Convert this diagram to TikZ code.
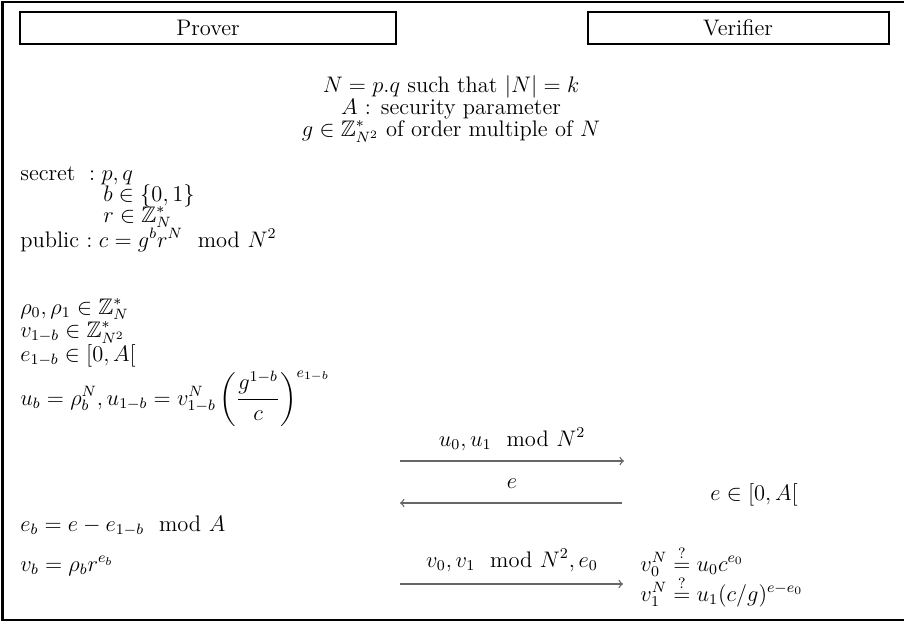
\documentclass[tikz,border=0pt]{standalone}
\usepackage{amsmath,amssymb}
\begin{document}
\begin{tikzpicture}[x=0.5333pt,y=-0.5333pt,
  every node/.append style={font=\fontsize{12}{14.4}\selectfont},
  frameline/.style={line width=1.07pt},
  rolebox/.style={draw,line width=1.07pt,minimum height=32*0.5333pt,inner sep=0pt},
  txt/.style={anchor=base west,inner sep=0pt},
  ctxt/.style={anchor=base,inner sep=0pt},
  msg/.style={draw=black!60,line width=0.7pt,-to}]
\useasboundingbox (0,0) rectangle (904,621);
\fill[white] (0,0) rectangle (904,621);
% frame (left, top, bottom)
\coordinate (tl) at (2.5,2); \coordinate (tr) at (904,2);
\coordinate (bl) at (2.5,619.5); \coordinate (br) at (904,619.5);
\draw[frameline] (tr) -- (tl) -- (bl) -- (br);
% roles
\node[rolebox,minimum width=376*0.5333pt] (prover) at (208,28) {Prover};
\node[rolebox,minimum width=301*0.5333pt] (verifier) at (738,28) {Verifier};
% common parameters
\node[ctxt] (p1) at (451,92) {$N = p.q$ such that $|N| = k$};
\node[ctxt] (p2) at (451,114) {$A$ : security parameter};
\node[ctxt] (p3) at (451,136) {$g\in\mathbb{Z}^*_{N^2}$ of order multiple of $N$};
% prover secrets
\node[txt] (s1) at (20,180) {secret $\;: p, q$};
\node[txt] (s2) at (103,201) {$b\in\{0,1\}$};
\node[txt] (s3) at (103,222) {$r\in\mathbb{Z}^*_N$};
\node[txt] (s4) at (20,247) {public $: c = g^b r^N \mod N^2$};
\node[txt] (l1) at (20,314) {$\rho_0,\rho_1\in\mathbb{Z}^*_N$};
\node[txt] (l2) at (20,337) {$v_{1-b}\in\mathbb{Z}^*_{N^2}$};
\node[txt] (l3) at (20,361) {$e_{1-b}\in[0,A[$};
\node[txt] (l4) at (20,405) {$u_b = \rho_b^N, u_{1-b} = v_{1-b}^N\left(\dfrac{g^{1-b}}{c}\right)^{e_{1-b}}$};
\node[txt] (l5) at (20,531) {$e_b = e - e_{1-b} \mod A$};
\node[txt] (l6) at (20,571) {$v_b = \rho_b r^{e_b}$};
% verifier side
\node[txt] (w1) at (710,500) {$e\in[0,A[$};
\node[txt] (w2) at (640,571) {$v_0^N \stackrel{?}{=} u_0 c^{e_0}$};
\node[txt] (w3) at (640,601) {$v_1^N \stackrel{?}{=} u_1 (c/g)^{e-e_0}$};
% messages
\coordinate (a1s) at (400,461); \coordinate (a1e) at (624,461);
\coordinate (a2s) at (622,503); \coordinate (a2e) at (400,503);
\coordinate (a3s) at (400,584); \coordinate (a3e) at (623,584);
\draw[msg] (a1s) -- (a1e);
\draw[msg] (a2s) -- (a2e);
\draw[msg] (a3s) -- (a3e);
\node[ctxt] (m1) at (512,446) {$u_0,u_1 \mod N^2$};
\node[ctxt] (m2) at (512,488) {$e$};
\node[ctxt] (m3) at (512,567) {$v_0,v_1 \mod N^2, e_0$};
\end{tikzpicture}
\end{document}
